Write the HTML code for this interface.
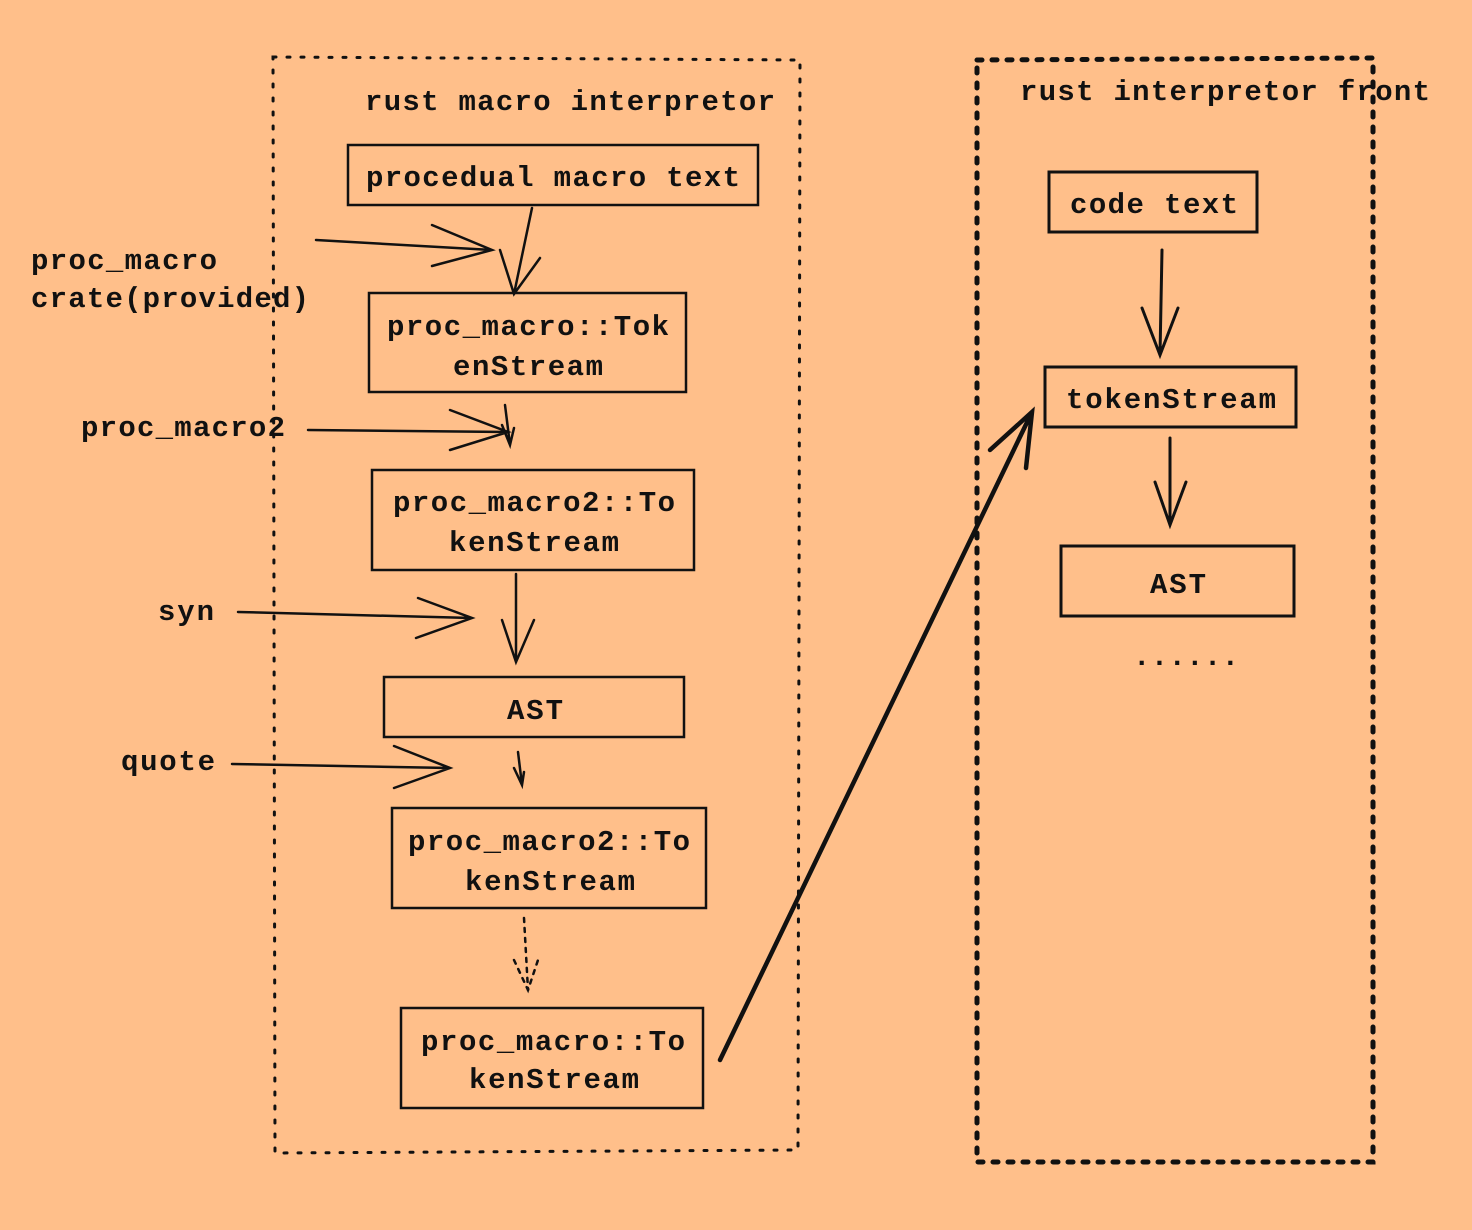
<!DOCTYPE html>
<html><head><meta charset="utf-8"><style>
html,body{margin:0;padding:0;background:#FFBF8A;}
svg{display:block}
text{font-family:"Liberation Mono",monospace;font-weight:bold;font-size:29px;fill:#111;}
</style></head><body>
<svg width="1472" height="1230" viewBox="0 0 1472 1230" xmlns="http://www.w3.org/2000/svg">
<rect width="1472" height="1230" fill="#FFBF8A"/>
<g fill="none" stroke="#111" stroke-linecap="round">
<!-- left dotted container -->
<path d="M273 57 L800 60 L798 1150 L275 1153 Z" stroke-width="3" stroke-dasharray="3 11"/>
<!-- right dotted container -->
<path d="M977 60 L1373 58 L1373 1162 L977 1162 Z" stroke-width="5" stroke-dasharray="5 10"/>

<g stroke-width="2.5">
<rect x="348" y="145" width="410" height="60"/>
<rect x="369" y="293" width="317" height="99"/>
<rect x="372" y="470" width="322" height="100"/>
<rect x="384" y="677" width="300" height="60"/>
<rect x="392" y="808" width="314" height="100"/>
<rect x="401" y="1008" width="302" height="100"/>
</g>
<g stroke-width="3">
<rect x="1049" y="172" width="208" height="60"/>
<rect x="1045" y="367" width="251" height="60"/>
<rect x="1061" y="546" width="233" height="70"/>
</g>

<g stroke-width="2.5">
<!-- vertical arrows left -->
<path d="M532 208 L514 294 M500 250 L514 294 L540 258"/>
<path d="M505 405 L510 445 M502 425 L510 445 L514 428"/>
<path d="M516 574 L516 662 M502 620 L516 662 L534 620"/>
<path d="M518 752 L522 785 M514 768 L522 785 L524 772"/>
<path d="M524 918 L528 990" stroke-dasharray="4 6"/>
<path d="M514 960 L528 990 L538 960" stroke-dasharray="4 6"/>
<!-- horizontal arrows -->
<path d="M316 240 L492 250 M432 225 L492 250 L432 266"/>
<path d="M308 430 L508 432 M450 410 L508 432 L450 450"/>
<path d="M238 612 L472 618 M418 598 L472 618 L416 638"/>
<path d="M232 764 L450 768 M394 746 L450 768 L394 788"/>
</g>
<g stroke-width="3">
<path d="M1162 250 L1160 355 M1142 308 L1160 355 L1178 308"/>
<path d="M1170 438 L1170 525 M1155 482 L1170 525 L1186 482"/>
</g>
<!-- long arrow -->
<path d="M720 1060 L1032 412 M990 450 L1032 412 L1026 468" stroke-width="4.5"/>
</g>

<text x="365" y="110" textLength="410">rust macro interpretor</text>
<text x="366" y="186" textLength="374">procedual macro text</text>
<text x="387" y="335" textLength="282">proc_macro::Tok</text>
<text x="453" y="375" textLength="150">enStream</text>
<text x="393" y="511" textLength="282">proc_macro2::To</text>
<text x="449" y="551" textLength="170">kenStream</text>
<text x="507" y="719" textLength="56">AST</text>
<text x="408" y="850" textLength="282">proc_macro2::To</text>
<text x="465" y="890" textLength="170">kenStream</text>
<text x="421" y="1050" textLength="264">proc_macro::To</text>
<text x="469" y="1088" textLength="170">kenStream</text>
<text x="31" y="269" textLength="186">proc_macro</text>
<text x="31" y="307" textLength="278">crate(provided)</text>
<text x="81" y="436" textLength="204">proc_macro2</text>
<text x="158" y="620" textLength="56">syn</text>
<text x="121" y="770" textLength="94">quote</text>
<text x="1020" y="100" textLength="410">rust interpretor front</text>
<text x="1070" y="213" textLength="168">code text</text>
<text x="1066" y="408" textLength="210">tokenStream</text>
<text x="1150" y="593" textLength="56">AST</text>
<text x="1133" y="665" textLength="106">......</text>
</svg>
</body></html>
